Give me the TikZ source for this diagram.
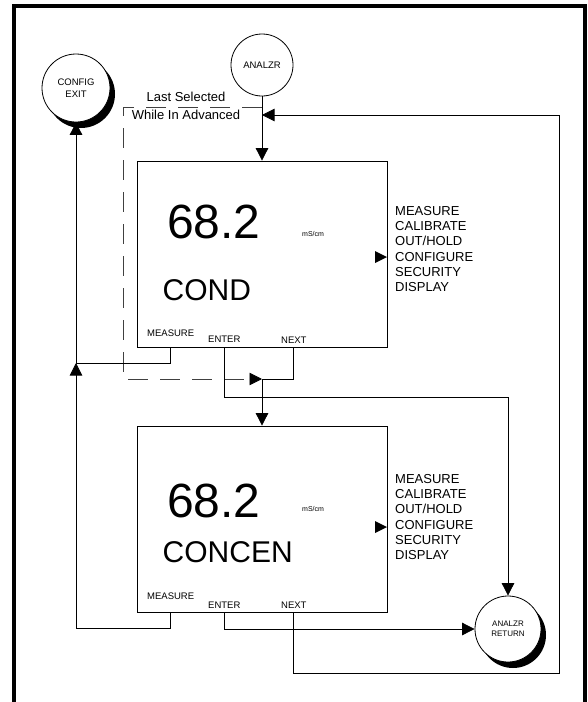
\documentclass[tikz,border=0pt]{standalone}
\usepackage{fontspec}
\setmainfont{Liberation Sans}
\usetikzlibrary{positioning,arrows.meta,shadows}

\begin{document}
\begin{tikzpicture}[x=1pt,y=-1pt,
    screen/.style={draw,line width=0.8pt,minimum width=250pt,
                   minimum height=186pt,inner sep=0pt},
    bubble/.style={circle,draw,line width=0.8pt,fill=white,minimum size=62pt,
                   inner sep=0pt,align=center,font=\fontsize{9.5}{11.5}\selectfont},
    exitbubble/.style={bubble,minimum size=68pt,
                   drop shadow={shadow xshift=5pt,shadow yshift=-6pt,fill=black,opacity=1}},
    reading/.style={anchor=base west,inner sep=0pt,font=\fontsize{48}{48}\selectfont},
    unit/.style={anchor=base west,inner sep=0pt,font=\fontsize{7}{8}\selectfont},
    param/.style={anchor=base west,inner sep=0pt,font=\fontsize{30}{30}\selectfont},
    key/.style={anchor=base west,inner sep=0pt,font=\fontsize{9.5}{11}\selectfont},
    menu/.style={anchor=west,inner sep=0pt,align=left,font=\fontsize{13}{15.3}\selectfont},
    line/.style={line width=0.8pt},
    arr/.style={line,-{Triangle[length=12.5pt,width=12.5pt]}},
    dashline/.style={line,black!75,dash pattern=on 20pt off 12pt,
                     -{Triangle[length=12.5pt,width=12.5pt,color=black]}}
  ]
    \useasboundingbox (0,0) rectangle (588,702);
    % outer frame
    \draw[line width=4.5pt] (14,702) -- (14,6) -- (585,6) -- (585,702);

    \node[bubble]     (analzr) at (262,65)  {ANALZR};
    \node[exitbubble] (exit)   at (76,88)   {CONFIG\\EXIT};
    \node[exitbubble,minimum size=66pt,font=\fontsize{8}{10.5}\selectfont]
                      (ret)    at (508,629) {ANALZR\\RETURN};
    \node[screen] (cond)   at (262,254) {};
    \node[screen] (concen) at (262,519) {};

    \node[font=\fontsize{13}{17.5}\selectfont,align=center,inner sep=0pt]
         (note) at (186,106) {Last Selected\\While In Advanced};

    % first screen
    \node[reading] (val1)  at (167,238) {68.2};
    \node[unit]    (unit1) at (302,236) {mS/cm};
    \node[param]   (par1)  at (162.5,300) {COND};
    \node[key]     (meas1) at (147,336) {MEASURE};
    \node[key]     (ent1)  at (208,342) {ENTER};
    \node[key]     (nxt1)  at (281,343) {NEXT};
    \node[menu]    (menu1) at (395,249) {MEASURE\\CALIBRATE\\OUT/HOLD\\CONFIGURE\\SECURITY\\DISPLAY};
    \fill (375,251) -- (387,257) -- (375,263) -- cycle;

    % second screen
    \node[reading] (val2)  at (167,517) {68.2};
    \node[unit]    (unit2) at (302,511) {mS/cm};
    \node[param]   (par2)  at (162.5,562) {CONCEN};
    \node[key]     (meas2) at (147,599) {MEASURE};
    \node[key]     (ent2)  at (208,608) {ENTER};
    \node[key]     (nxt2)  at (281,608) {NEXT};
    \node[menu]    (menu2) at (395,517) {MEASURE\\CALIBRATE\\OUT/HOLD\\CONFIGURE\\SECURITY\\DISPLAY};
    \fill (375,521) -- (387,527) -- (375,533) -- cycle;

    % key outlets and joints
    \coordinate (c1m) at (170,347);
    \coordinate (c1e) at (224,347);
    \coordinate (c1n) at (293,347);
    \coordinate (c2m) at (170,612);
    \coordinate (c2e) at (224,612);
    \coordinate (c2n) at (293,612);
    \coordinate (top) at (262,115);
    \coordinate (sel) at (262,107);
    \coordinate (mid) at (262,379);
    \coordinate (jn)  at (76,363);

    \draw[arr] (analzr) -- (cond);
    \draw[arr] (c2n) |- (559,673) -- (559,115) -- (top);
    \draw[dashline] (sel) -| (123,379) -- (mid);
    \draw[line] (c1n) |- (mid);
    \draw[arr] (mid) -- (concen);
    \draw[arr] (c1e) -- ++(0,50) -| (ret);
    \draw[line] (c1m) |- (jn);
    \draw[arr] (jn) -- (exit);
    \draw[arr] (c2m) |- (76,628) -- (jn);
    \draw[arr] (c2e) |- (ret);
  \end{tikzpicture}
\end{document}
